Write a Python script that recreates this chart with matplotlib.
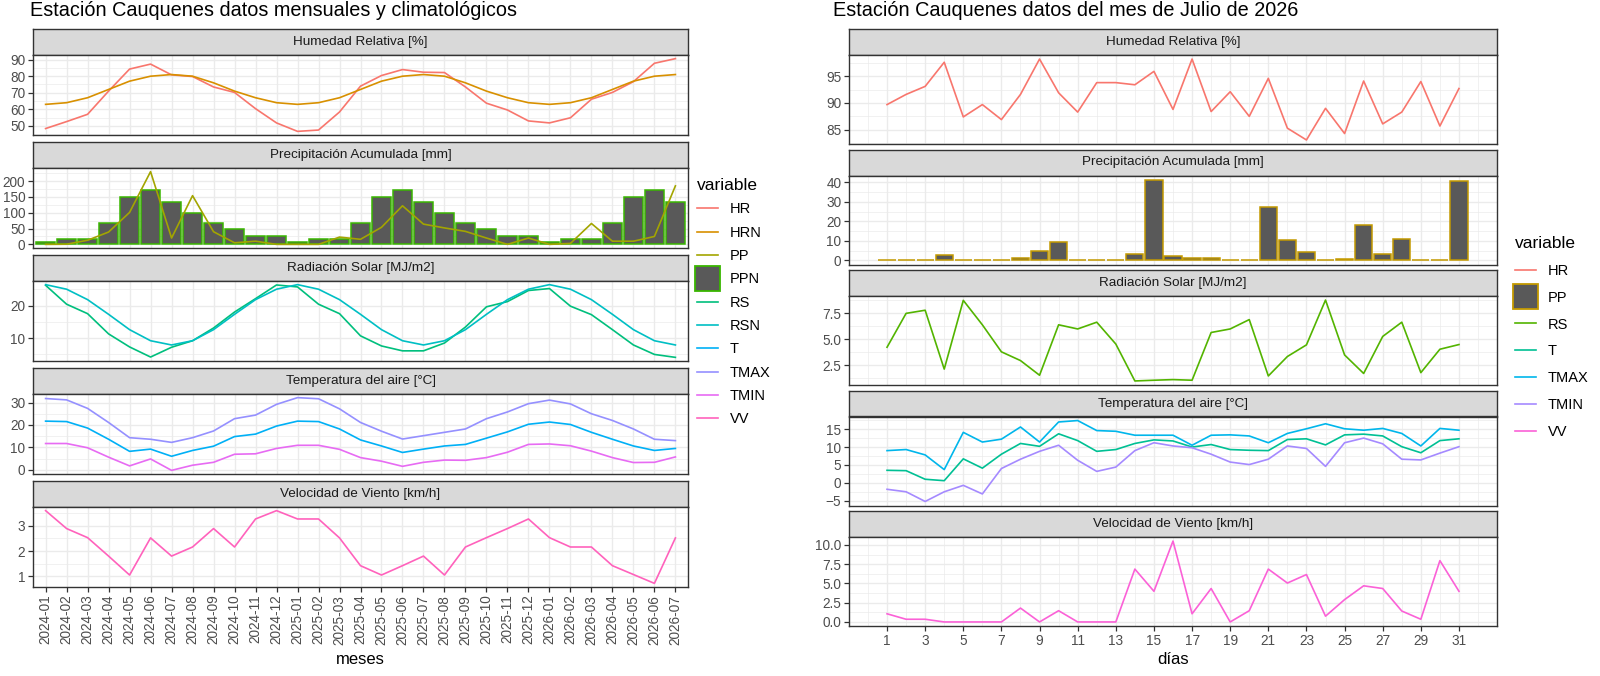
import numpy as np
import pandas as pd
import matplotlib
matplotlib.use("Agg")
import matplotlib.pyplot as plt
from matplotlib.lines import Line2D
from matplotlib.patches import Patch, Rectangle
from matplotlib.legend_handler import HandlerPatch
from matplotlib.ticker import MultipleLocator, FixedLocator

plt.rcParams['font.family'] = ['Liberation Sans', 'DejaVu Sans']

# ---------------- monthly data (left) ----------------
meses = pd.period_range('2024-01', '2026-07', freq='M').strftime('%Y-%m').tolist()

hr = [48.4, 52.6, 57.0, 71.0, 84.3, 87.3, 80.8, 79.8, 73.5, 70.2, 60.4, 51.8,
      46.7, 47.5, 58.4, 74.0, 80.4, 84.0, 82.4, 82.2, 73.5, 63.7, 59.6, 53.0,
      51.8, 54.9, 66.1, 70.2, 76.7, 87.8, 90.6]
hrn = [63, 64, 67, 72, 77, 80, 81, 80, 76, 71, 67, 64,
       63, 64, 67, 72, 77, 80, 81, 80, 76, 71, 67, 64,
       63, 64, 67, 72, 77, 80, 81]
pp = [0, 0.5, 13, 39, 101, 230, 20, 154, 40, 5, 10, 0,
      0, 0, 23, 16, 54, 122, 64, 52, 41, 20, 0, 20,
      0, 3, 66, 10, 10, 25, 185]
ppn = [9, 17, 17, 66, 149, 173, 133, 99, 66, 50, 25, 25,
       9, 17, 17, 66, 149, 173, 133, 99, 66, 50, 25, 25,
       9, 17, 17, 66, 149, 173, 133]
rs = [26.2, 20.4, 17.5, 11.3, 7.3, 4.2, 7.2, 9.2, 13.1, 18.0, 22.1, 26.3,
      25.7, 20.4, 17.5, 10.7, 7.6, 6.1, 6.1, 8.5, 13.4, 19.6, 21.2, 24.6,
      25.2, 19.8, 17.2, 12.6, 7.9, 5.0, 4.1]
rsn = [26.4, 25.0, 21.8, 17.3, 12.6, 9.2, 7.9, 9.2, 12.6, 17.3, 21.8, 25.0,
       26.4, 25.0, 21.8, 17.3, 12.6, 9.2, 7.9, 9.2, 12.6, 17.3, 21.8, 25.0,
       26.4, 25.0, 21.8, 17.3, 12.6, 9.2, 7.9]
t_m = [21.7, 21.5, 18.6, 13.6, 8.2, 9.2, 6.0, 8.6, 10.5, 14.8, 15.9, 19.5,
       21.7, 21.5, 18.2, 13.3, 10.6, 7.7, 9.2, 10.6, 11.3, 14.1, 16.9, 20.3,
       21.3, 20.2, 16.7, 13.6, 10.6, 8.6, 9.5]
tmax_m = [31.8, 31.2, 27.4, 21.1, 14.3, 13.6, 12.2, 14.3, 17.3, 22.8, 24.4, 29.2,
          32.2, 31.7, 27.2, 21.1, 17.2, 13.7, 15.2, 16.7, 18.2, 22.8, 25.8, 29.5,
          31.1, 29.4, 25.0, 22.0, 18.2, 13.6, 13.0]
tmin_m = [11.7, 11.7, 9.8, 5.6, 1.7, 4.8, -0.3, 2.0, 3.3, 6.9, 7.1, 9.5,
          10.9, 10.9, 9.1, 5.4, 3.8, 1.5, 3.3, 4.3, 4.2, 5.4, 7.8, 11.3,
          11.5, 10.7, 8.3, 5.4, 3.2, 3.3, 5.7]
vv_m = [3.6, 2.89, 2.53, 1.8, 1.05, 2.52, 1.8, 2.16, 2.89, 2.16, 3.27, 3.6,
        3.27, 3.27, 2.52, 1.42, 1.05, 1.42, 1.8, 1.05, 2.16, 2.53, 2.89, 3.27,
        2.53, 2.16, 2.16, 1.42, 1.07, 0.72, 2.52]

# ---------------- daily data (right, July 2026) ----------------
dias = list(range(1, 32))
hr_d = [89.7, 91.6, 93.1, 97.6, 87.4, 89.7, 86.9, 91.6, 98.2, 91.9, 88.3, 93.8,
        93.8, 93.4, 95.9, 88.8, 98.2, 88.4, 92.1, 87.5, 94.6, 85.3, 83.1, 89.0,
        84.3, 94.1, 86.1, 88.3, 94.0, 85.7, 92.7]
pp_d = [0.1, 0.2, 0.2, 3.0, 0.1, 0.1, 0.1, 1.4, 4.6, 9.5, 0.0, 0.2,
        0.2, 3.2, 41.4, 2.3, 1.2, 1.2, 0.0, 0.0, 27.5, 10.4, 4.5, 0.1,
        0.9, 18.1, 3.3, 10.9, 0.2, 0.2, 40.7]
rs_d = [4.24, 7.5, 7.8, 2.14, 8.75, 6.4, 3.8, 2.96, 1.55, 6.4, 6.0, 6.65,
        4.55, 1.0, 1.07, 1.13, 1.07, 5.66, 6.0, 6.9, 1.48, 3.35, 4.47, 8.78,
        3.5, 1.72, 5.28, 6.65, 1.8, 4.05, 4.5]
t_d = [3.5, 3.4, 1.0, 0.6, 6.7, 4.1, 8.0, 11.0, 10.2, 13.7, 11.8, 8.8,
       9.3, 11.0, 12.0, 11.7, 10.0, 10.7, 9.3, 9.1, 9.0, 12.1, 12.3, 10.6,
       13.4, 13.6, 13.1, 10.1, 8.4, 11.8, 12.3]
tmax_d = [9.0, 9.3, 7.8, 3.7, 14.1, 11.4, 12.2, 15.6, 11.4, 17.0, 17.4, 14.6,
          14.4, 13.3, 13.3, 13.3, 10.5, 13.3, 13.4, 13.1, 11.2, 13.8, 15.1, 16.5,
          15.1, 14.7, 15.2, 13.8, 10.3, 15.2, 14.7]
tmin_d = [-1.8, -2.5, -5.2, -2.5, -0.7, -3.1, 4.0, 6.6, 8.8, 10.5, 6.3, 3.2,
          4.4, 9.0, 11.2, 10.3, 9.8, 8.0, 5.8, 5.1, 6.6, 10.3, 9.6, 4.6,
          11.2, 12.5, 10.9, 6.6, 6.4, 8.3, 10.1]
vv_d = [1.06, 0.35, 0.35, 0.0, 0.0, 0.0, 0.0, 1.8, 0.0, 1.46, 0.0, 0.0,
        0.0, 6.86, 3.98, 10.5, 1.06, 4.34, 0.0, 1.46, 6.86, 5.05, 6.15, 0.75,
        2.9, 4.69, 4.34, 1.42, 0.35, 7.96, 3.98]

# ggplot hue palettes
COL_L = {'HR': '#F8766D', 'HRN': '#D89000', 'PP': '#A3A500', 'PPN': '#39B600',
         'RS': '#00BF7D', 'RSN': '#00BFC4', 'T': '#00B0F6', 'TMAX': '#9590FF',
         'TMIN': '#E76BF3', 'VV': '#FF62BC'}
COL_R = {'HR': '#F8766D', 'PP': '#C49A00', 'RS': '#53B400', 'T': '#00C094',
         'TMAX': '#00B6EB', 'TMIN': '#A58AFF', 'VV': '#FB61D7'}
BAR_FILL = '#595959'
LW = 1.2

W, H = 1600, 676
fig = plt.figure(figsize=(W / 100, H / 100), dpi=100)


def px_axes(x0, y0, x1, y1):
    return fig.add_axes([x0 / W, 1 - y1 / H, (x1 - x0) / W, (y1 - y0) / H])


def panel(x0, x1, top, bottom, title, strip_h=26):
    st = px_axes(x0, top, x1, top + strip_h)
    st.set_facecolor('#D9D9D9')
    st.set_xticks([])
    st.set_yticks([])
    for s in st.spines.values():
        s.set_color('#333333')
        s.set_linewidth(1.0)
    st.text(0.5, 0.5, title, transform=st.transAxes, ha='center', va='center',
            fontsize=9.7, color='#1A1A1A')
    ax = px_axes(x0, top + strip_h, x1, bottom)
    ax.set_axisbelow(True)
    for s in ax.spines.values():
        s.set_color('#333333')
        s.set_linewidth(1.0)
    ax.grid(which='major', color='#EBEBEB', linewidth=1.0)
    ax.grid(which='minor', color='#EBEBEB', linewidth=0.5)
    ax.tick_params(which='major', color='#333333', length=3.5, width=0.9,
                   labelsize=9.8, labelcolor='#4D4D4D', pad=2)
    ax.tick_params(which='minor', length=0)
    return ax


def yscale(ax, vals, step, lo=None):
    vmin = min(vals) if lo is None else min(lo, min(vals))
    vmax = max(vals)
    pad = 0.05 * (vmax - vmin)
    ax.set_ylim(vmin - pad, vmax + pad)
    ax.yaxis.set_major_locator(MultipleLocator(step))
    ax.yaxis.set_minor_locator(MultipleLocator(step / 2))


# ---------------- left column ----------------
LX0, LX1 = 33, 688
ltops = [29, 142, 255, 368, 481]
lpanel = 106
xm = np.arange(len(meses))

left_axes = []
titles = ['Humedad Relativa [%]', 'Precipitación Acumulada [mm]', 'Radiación Solar [MJ/m2]',
          'Temperatura del aire [°C]', 'Velocidad de Viento [km/h]']
for top, ttl in zip(ltops, titles):
    left_axes.append(panel(LX0, LX1, top, top + lpanel, ttl))

a = left_axes[0]
a.plot(xm, hr, color=COL_L['HR'], lw=LW)
a.plot(xm, hrn, color=COL_L['HRN'], lw=LW)
yscale(a, hr + hrn, 10)

a = left_axes[1]
a.bar(xm, ppn, width=0.9, color=BAR_FILL, edgecolor=COL_L['PPN'], linewidth=1.1)
a.plot(xm, pp, color=COL_L['PP'], lw=LW)
yscale(a, pp + ppn, 50, lo=0)

a = left_axes[2]
a.plot(xm, rs, color=COL_L['RS'], lw=LW)
a.plot(xm, rsn, color=COL_L['RSN'], lw=LW)
yscale(a, rs + rsn, 10)

a = left_axes[3]
a.plot(xm, t_m, color=COL_L['T'], lw=LW)
a.plot(xm, tmax_m, color=COL_L['TMAX'], lw=LW)
a.plot(xm, tmin_m, color=COL_L['TMIN'], lw=LW)
yscale(a, t_m + tmax_m + tmin_m, 10)

a = left_axes[4]
a.plot(xm, vv_m, color=COL_L['VV'], lw=LW)
yscale(a, vv_m, 1)

for i, a in enumerate(left_axes):
    a.set_xlim(-0.6, len(meses) - 0.4)
    a.set_xticks(xm)
    if i < 4:
        a.tick_params(axis='x', length=0, labelbottom=False)
    else:
        a.set_xticklabels(meses, rotation=90)

# ---------------- right column ----------------
RX0, RX1 = 849, 1497
rtops = [29, 149.5, 270, 390.5, 511]
rpanel = 115
xd = np.array(dias)

right_axes = []
for top, ttl in zip(rtops, titles):
    right_axes.append(panel(RX0, RX1, top, top + rpanel, ttl))

a = right_axes[0]
a.plot(xd, hr_d, color=COL_R['HR'], lw=LW)
yscale(a, hr_d, 5)

a = right_axes[1]
a.bar(xd, pp_d, width=0.9, color=BAR_FILL, edgecolor=COL_R['PP'], linewidth=1.1)
yscale(a, pp_d, 10, lo=0)

a = right_axes[2]
a.plot(xd, rs_d, color=COL_R['RS'], lw=LW)
yscale(a, rs_d, 2.5)
a.yaxis.set_major_formatter(lambda v, p: f'{v:.1f}')

a = right_axes[3]
a.plot(xd, t_d, color=COL_R['T'], lw=LW)
a.plot(xd, tmax_d, color=COL_R['TMAX'], lw=LW)
a.plot(xd, tmin_d, color=COL_R['TMIN'], lw=LW)
yscale(a, t_d + tmax_d + tmin_d, 5)

a = right_axes[4]
a.plot(xd, vv_d, color=COL_R['VV'], lw=LW)
yscale(a, vv_d, 2.5)
a.yaxis.set_major_formatter(lambda v, p: f'{v:.1f}')

dlo, dhi = dias[0] - 0.45, dias[-1] + 0.45
dpad = 0.05 * (dhi - dlo)
for i, a in enumerate(right_axes):
    a.set_xlim(dlo - dpad, dhi + dpad)
    a.xaxis.set_major_locator(FixedLocator(dias[::2]))
    a.xaxis.set_minor_locator(FixedLocator(list(range(0, 33, 2))))
    if i < 4:
        a.tick_params(axis='x', length=0, labelbottom=False)

# ---------------- titles and axis labels ----------------
fig.text(30 / W, 1 - 11 / H, 'Estación Cauquenes datos mensuales y climatológicos',
         fontsize=14.3, va='center', ha='left', color='black')
fig.text(833 / W, 1 - 11 / H, 'Estación Cauquenes datos del mes de Julio de 2026',
         fontsize=14.3, va='center', ha='left', color='black')
fig.text((LX0 + LX1) / 2 / W, 1 - 659 / H, 'meses', fontsize=12, ha='center', va='center')
fig.text((RX0 + RX1) / 2 / W, 1 - 659 / H, 'días', fontsize=12, ha='center', va='center')


# ---------------- legends ----------------
def square_patch(legend, orig_handle, xdescent, ydescent, width, height, fontsize):
    side = width * 1.2
    return Rectangle((-xdescent - (side - width) / 2, -ydescent + height / 2 - side / 2),
                     side, side)


def make_legend(names, colors, bar_name, anchor, spacing):
    handles = []
    for n in names:
        if n == bar_name:
            handles.append(Patch(facecolor=BAR_FILL, edgecolor=colors[n], linewidth=1.3, label=n))
        else:
            handles.append(Line2D([], [], color=colors[n], lw=LW, label=n))
    lg = fig.legend(handles=handles, loc='upper left', bbox_to_anchor=anchor,
                    frameon=False, title='variable', title_fontsize=12.5, fontsize=10.5,
                    alignment='left', handlelength=1.45, handletextpad=0.8,
                    labelspacing=spacing, borderpad=0, borderaxespad=0,
                    handler_map={Patch: HandlerPatch(patch_func=square_patch)})
    return lg


make_legend(list(COL_L), COL_L, 'PPN', (697 / W, 1 - 178 / H), 0.64)
make_legend(list(COL_R), COL_R, 'PP', (1515 / W, 1 - 236 / H), 0.88)

fig.savefig('out.png', dpi=100, facecolor='white')
